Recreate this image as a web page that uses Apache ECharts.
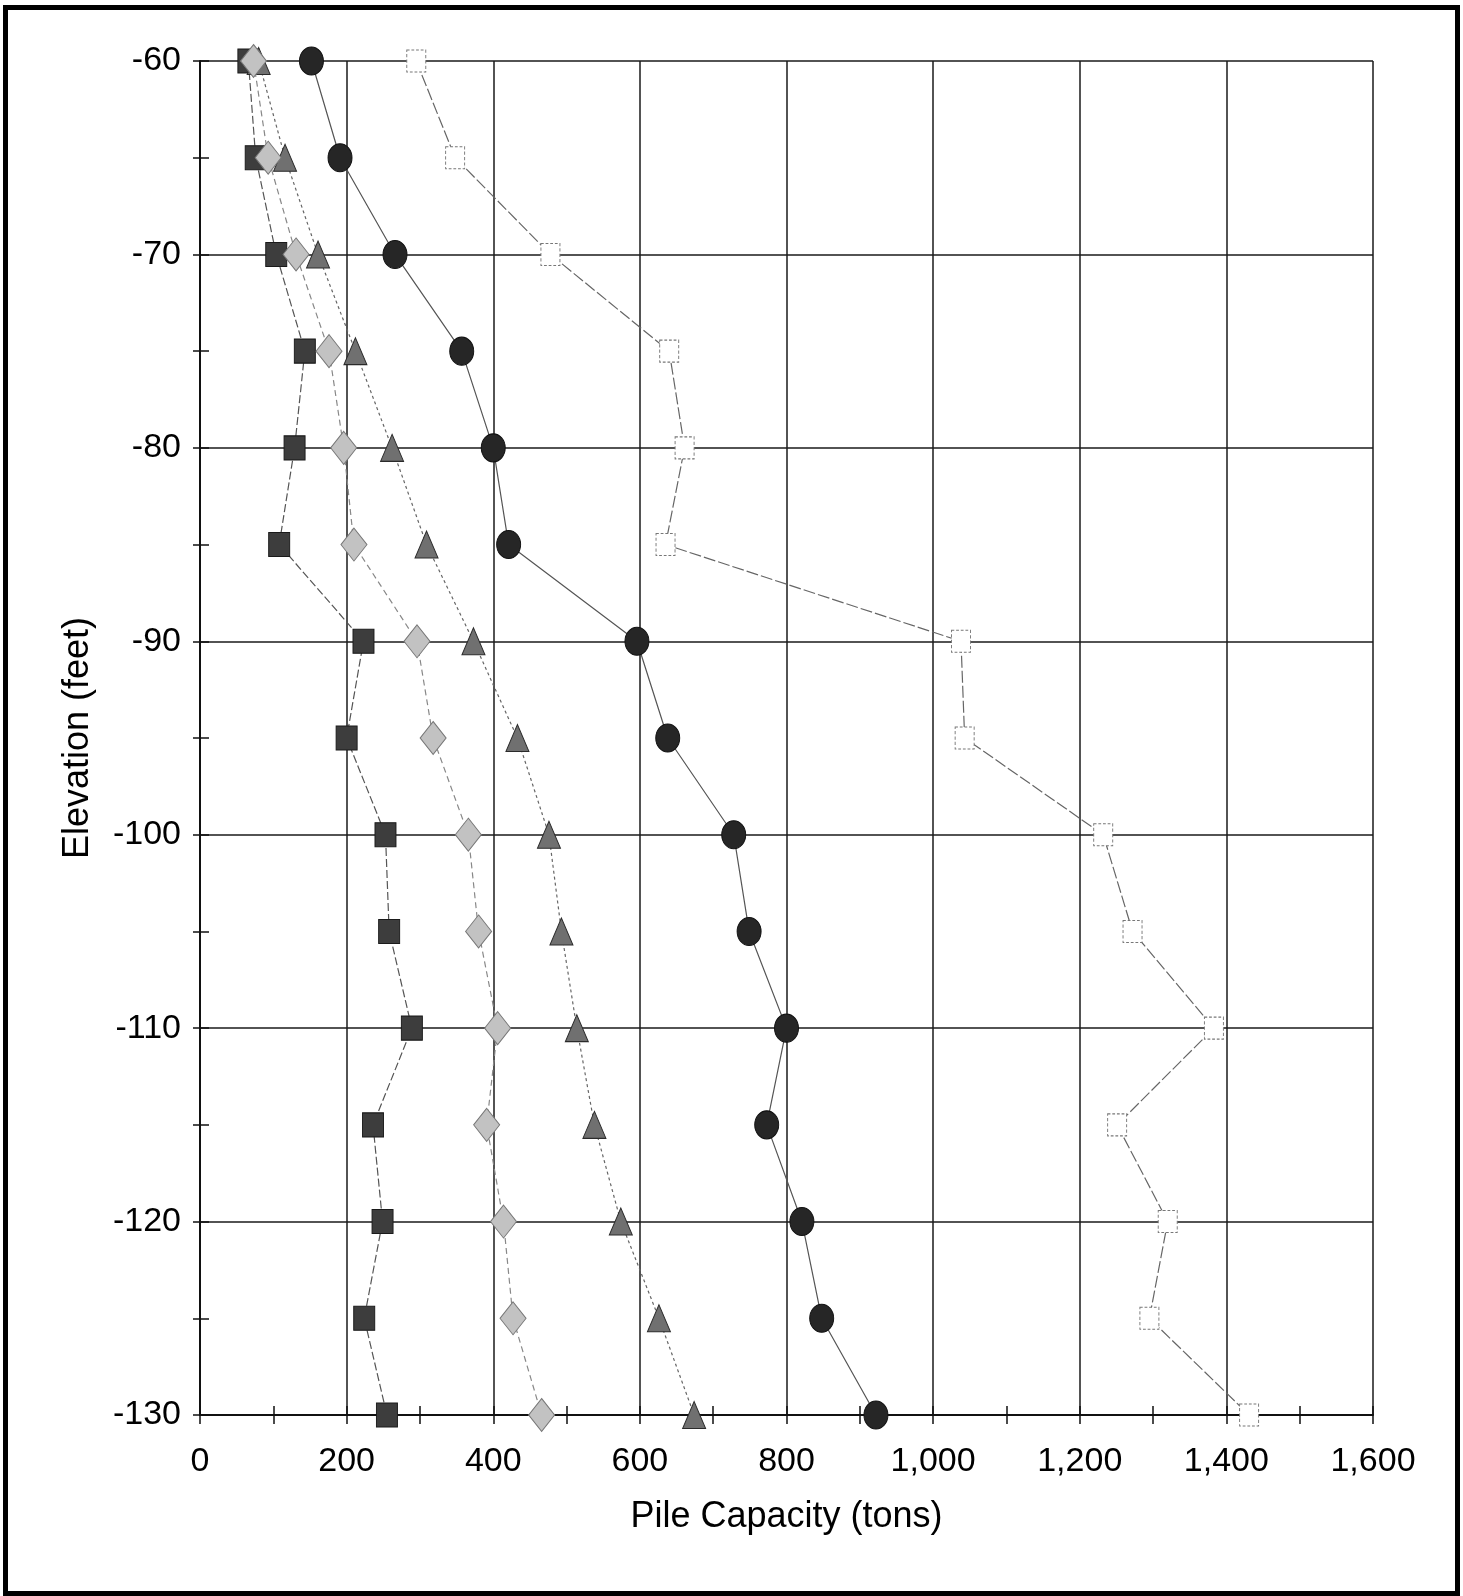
<!DOCTYPE html>
<html>
<head>
<meta charset="utf-8">
<script src="https://cdn.jsdelivr.net/npm/echarts@6/dist/echarts.min.js"></script>
<style>
html,body{margin:0;padding:0;background:#fff;}
#chart{width:1463px;height:1596px;}
</style>
</head>
<body>
<div id="chart"></div>
<script>
// Elevation (feet)
var elevations = [-60,-65,-70,-75,-80,-85,-90,-95,-100,-105,-110,-115,-120,-125,-130];
// Pile capacity (tons) per series
var squareVals   = [66, 76, 104, 143, 129, 108, 223, 200, 253, 258, 289, 236, 249, 224, 255];
var diamondVals  = [73, 93, 131, 176, 196, 210, 296, 318, 366, 380, 406, 391, 414, 427, 466];
var triangleVals = [80, 116, 161, 212, 262, 309, 373, 433, 476, 493, 514, 538, 574, 626, 674];
var circleVals   = [152, 191, 266, 357, 400, 421, 596, 638, 728, 749, 800, 773, 821, 848, 922];
var openVals     = [295, 348, 478, 640, 661, 635, 1038, 1043, 1232, 1272, 1383, 1251, 1320, 1295, 1431];
var xTicks = [0,200,400,600,800,1000,1200,1400,1600];
var yTicks = [-60,-70,-80,-90,-100,-110,-120,-130];

function pairs(vals){ return vals.map(function(v,i){ return [v, elevations[i]]; }); }

var FONT = '"Liberation Sans", Arial, sans-serif';
var chart = echarts.init(document.getElementById('chart'));

function fmt(v){ return String(v).replace(/\B(?=(\d{3})+(?!\d))/g, ','); }

var xBase = {type:'value', min:xTicks[0], max:xTicks[xTicks.length-1], interval:200, position:'bottom'};
var yBase = {type:'value', min:yTicks[yTicks.length-1], max:yTicks[0], interval:10, position:'left'};

function lineSeries(name, vals, symbol, size, fill, border, lineColor, lineType, z, borderType){
  return {
    name:name, type:'line', data:pairs(vals), xAxisIndex:0, yAxisIndex:0,
    symbol:symbol, symbolSize:size, showSymbol:true, z:z,
    lineStyle:{color:lineColor, width:1.2, type:lineType},
    itemStyle:{color:fill, borderColor:border, borderWidth:1, borderType:borderType||'solid', opacity:1},
    emphasis:{disabled:true}, animation:false
  };
}

chart.setOption({
  animation:false,
  backgroundColor:'#ffffff',
  grid:{left:200, top:61, right:90, bottom:181},
  xAxis:[
    Object.assign({}, xBase, {
      name:'Pile Capacity (tons)', nameLocation:'middle', nameGap:84,
      nameTextStyle:{fontSize:36, color:'#000', fontFamily:FONT},
      axisLine:{show:true, lineStyle:{color:'#111', width:2}},
      axisTick:{show:true, length:9, lineStyle:{color:'#111', width:1.5}},
      minorTick:{show:true, splitNumber:2, length:9, lineStyle:{color:'#111', width:1.5}},
      axisLabel:{fontSize:34, color:'#000', fontFamily:FONT, margin:30, formatter:fmt},
      splitLine:{show:true, lineStyle:{color:'#1a1a1a', width:1.5}}
    }),
    Object.assign({}, xBase, {
      axisLine:{show:false},
      axisTick:{show:true, inside:true, length:9, lineStyle:{color:'#111', width:1.5}},
      minorTick:{show:true, splitNumber:2, length:9, lineStyle:{color:'#111', width:1.5}},
      axisLabel:{show:false}, splitLine:{show:false}
    })
  ],
  yAxis:[
    Object.assign({}, yBase, {
      name:'Elevation (feet)', nameLocation:'middle', nameGap:104, nameRotate:90,
      nameTextStyle:{fontSize:36, color:'#000', fontFamily:FONT},
      axisLine:{show:true, lineStyle:{color:'#111', width:2}},
      axisTick:{show:true, length:7, lineStyle:{color:'#111', width:1.5}},
      minorTick:{show:true, splitNumber:2, length:7, lineStyle:{color:'#111', width:1.5}},
      axisLabel:{fontSize:34, color:'#000', fontFamily:FONT, margin:19},
      splitLine:{show:true, lineStyle:{color:'#1a1a1a', width:1.5}}
    }),
    Object.assign({}, yBase, {
      axisLine:{show:false},
      axisTick:{show:true, inside:true, length:9, lineStyle:{color:'#111', width:1.5}},
      minorTick:{show:true, splitNumber:2, length:9, lineStyle:{color:'#111', width:1.5}},
      axisLabel:{show:false}, splitLine:{show:false}
    })
  ],
  graphic:[{
    type:'rect', left:3, top:5, z:100, silent:true,
    shape:{width:1452, height:1586},
    style:{fill:'none', stroke:'#000', lineWidth:5}
  }],
  series:[
    lineSeries('Open square', openVals, 'rect', [19,22], '#ffffff', '#777', '#666', [12,3], 2, [3,2]),
    lineSeries('Circle', circleVals, 'circle', [24,28], '#262626', '#111', '#555', 'solid', 3),
    lineSeries('Square', squareVals, 'rect', [21,24], '#3d3d3d', '#1a1a1a', '#555', [8,3], 4),
    lineSeries('Triangle', triangleVals, 'triangle', [23,27], '#707070', '#2a2a2a', '#666', [3,3], 5),
    lineSeries('Diamond', diamondVals, 'diamond', [26,33], '#c2c2c2', '#777', '#888', [6,4], 6)
  ]
});
</script>
</body>
</html>
